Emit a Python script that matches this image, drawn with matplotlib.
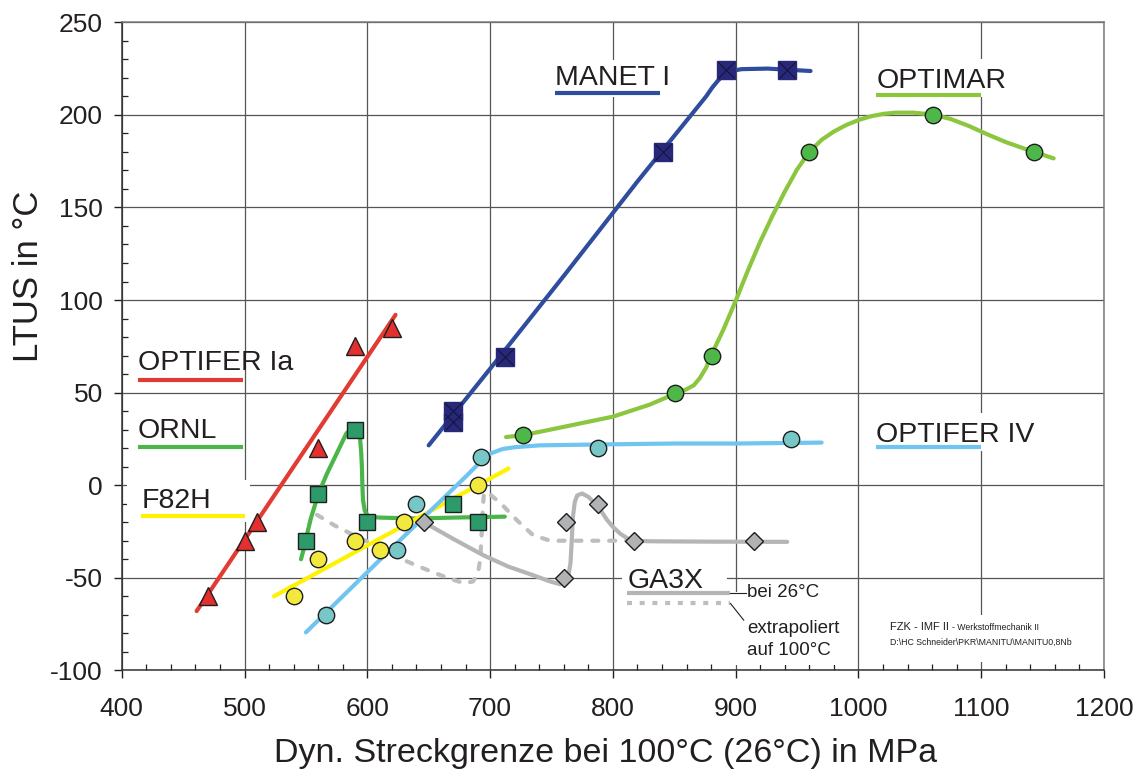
import matplotlib.pyplot as plt
from matplotlib.patches import Rectangle
from matplotlib.ticker import MultipleLocator

plt.rcParams["font.family"] = ["Liberation Sans", "DejaVu Sans"]
plt.rcParams["axes.unicode_minus"] = False

# OPTIFER Ia: measured points and straight trend line
optifer1a_x = [470, 500, 510, 560, 590, 620]
optifer1a_y = [-60, -30, -20, 20, 75, 85]
optifer1a_line_x = [461, 623]
optifer1a_line_y = [-68, 92]

# ORNL
ornl_x = [550, 560, 590, 600, 670, 690]
ornl_y = [-30, -5, 30, -20, -10, -20]
ornl_line_x = [546, 548, 550, 554, 560, 567, 575, 583, 588, 591, 594, 595,
               595.6, 596, 596.5, 598, 601, 610, 640, 670, 712]
ornl_line_y = [-40, -35, -29, -18, -5, 6, 17, 28, 31, 30, 26, 18,
               10, 0, -8, -14, -17, -17.5, -18, -17.5, -17]

# F82H
f82h_x = [540, 560, 590, 610, 630, 690]
f82h_y = [-60, -40, -30, -35, -20, 0]
f82h_line_x = [524, 715]
f82h_line_y = [-60, 9]

# OPTIFER IV
optifer4_x = [566, 624, 640, 693, 788, 945]
optifer4_y = [-70, -35, -10, 15, 20, 25]
optifer4_line_x = [550, 620, 680, 692, 700, 710, 720, 740, 790, 850, 900, 970]
optifer4_line_y = [-79.5, -34, 4.5, 12.5, 17, 19.5, 20.5, 21.5, 22, 22.5, 22.5, 23]

# MANET I
manet_x = [670, 670, 712, 841, 892, 942]
manet_y = [34, 40, 69, 180, 224, 224]
manet_line_x = [650, 705, 760, 820, 876, 881, 886, 891, 897, 905, 926, 961]
manet_line_y = [21.5, 67, 113, 164, 210, 214.8, 218.8, 221.8, 223.8, 224.7, 225, 223.7]

# OPTIMAR
optimar_x = [727, 851, 881, 960, 1061, 1143]
optimar_y = [27, 50, 70, 180, 200, 180]
optimar_line_x = [713, 727, 760, 800, 830, 851, 860, 866, 871, 876, 880, 890,
                  900, 910, 920, 930, 940, 950, 960, 970, 980, 990, 1000, 1010,
                  1020, 1030, 1045, 1060, 1075, 1090, 1105, 1120, 1135, 1143, 1159]
optimar_line_y = [26, 27, 31.5, 37, 43.5, 49.5, 51.8, 54, 58, 63.5, 70, 84,
                  99.5, 116, 131.5, 145.5, 158.5, 170.5, 180, 186.5, 191, 194.5, 197.2, 199.2,
                  200.5, 201.2, 201.2, 200.2, 197.8, 194, 189.5, 185.3, 181.8, 180, 176.5]

# GA3X, tested at 26 °C (solid) and extrapolated to 100 °C (dashed)
ga3x_x = [646, 760, 762, 788, 817, 915]
ga3x_y = [-20, -50, -20, -10, -30, -30]
ga3x_line_x = [646, 670, 695, 715, 735, 748, 757, 761, 764, 765.5, 766.5, 767.5,
               769, 771, 775, 780, 785, 790, 795, 800, 806, 812, 817, 830, 880, 942]
ga3x_line_y = [-20, -29, -38, -44, -48.6, -51.8, -53.5, -52, -48, -42, -30, -17,
               -9, -5.5, -4.5, -6.3, -9.5, -13.5, -18.5, -22.5, -26.2, -28.8, -30, -30.3,
               -30.5, -30.6]
ga3x_extra_x = [559, 574, 589, 605, 621, 646, 665, 679, 686, 690, 692, 693, 694,
                695, 700, 709, 722, 735, 749, 780, 817]
ga3x_extra_y = [-16, -22, -27, -32, -38, -45, -50, -53, -52, -48, -40, -28, -14,
                -4, -5, -10, -19, -27, -30, -30, -30]

xticks = [400, 500, 600, 700, 800, 900, 1000, 1100, 1200]
yticks = [-100, -50, 0, 50, 100, 150, 200, 250]

TXT = "#231f20"
RED = "#e23b34"
ORNL_LINE = "#4ab548"
YELLOW = "#fff200"
SKY = "#6fc5ef"
NAVY_LINE = "#2f4d9c"
OPTIMAR_LINE = "#8cc63f"
GREY = "#b4b5b7"

fig = plt.figure(figsize=(11.42, 7.69), dpi=100)
ax = fig.add_axes([0.1066, 0.1283, 0.8601, 0.8427])
ax.set_xlim(400, 1200)
ax.set_ylim(-100, 250)
ax.set_xticks(xticks)
ax.set_yticks(yticks)
ax.xaxis.set_minor_locator(MultipleLocator(20))
ax.yaxis.set_minor_locator(MultipleLocator(10))
ax.set_axisbelow(True)
ax.grid(which="major", color="#555555", lw=0.9)
ax.tick_params(which="major", direction="out", length=5.5, width=1, labelsize=19,
               colors=TXT)
ax.tick_params(axis="x", which="major", pad=14)
ax.tick_params(axis="y", which="major", pad=8)
ax.tick_params(which="minor", direction="in", length=4.5, width=0.9, color=TXT)
for side in ["left", "bottom"]:
    ax.spines[side].set_color("#333333")
    ax.spines[side].set_linewidth(1.1)
for side in ["top", "right"]:
    ax.spines[side].set_color("#7a7a7a")
    ax.spines[side].set_linewidth(1.1)

ax.set_xlabel("Dyn. Streckgrenze bei 100°C (26°C) in MPa", fontsize=24.5, color=TXT,
              va="baseline")
ax.xaxis.set_label_coords(0.493, -0.1415)
ax.set_ylabel("LTUS in °C", fontsize=25, color=TXT, va="baseline")
ax.yaxis.set_label_coords(-0.0855, 0.608)

# white areas that hide the grid behind the labels
for x0, x1, y0, y1 in [(404, 504.5, -20, 2.7), (1009, 1150, 18.5, 39),
                       (1009, 1128, 209.5, 230), (749, 855, 209.6, 229.6),
                       (807.4, 893, -62.2, -43.2), (898, 993.5, -97, -57.7),
                       (1018, 1177, -95.5, -70.2)]:
    ax.add_patch(Rectangle((x0, y0), x1 - x0, y1 - y0, facecolor="white",
                           edgecolor="none", zorder=1))

lw = 3
ax.plot(ga3x_extra_x, ga3x_extra_y, color="#bdbec0", lw=lw, ls=(0, (1.45, 2.6)),
        dash_capstyle="round", zorder=2)
ax.plot(ga3x_line_x, ga3x_line_y, color=GREY, lw=lw, solid_capstyle="round", zorder=2)
ax.plot(optifer1a_line_x, optifer1a_line_y, color=RED, lw=lw, solid_capstyle="round", zorder=2)
ax.plot(ornl_line_x, ornl_line_y, color=ORNL_LINE, lw=lw, solid_capstyle="round", zorder=2)
ax.plot(f82h_line_x, f82h_line_y, color=YELLOW, lw=lw, solid_capstyle="round", zorder=2)
ax.plot(optifer4_line_x, optifer4_line_y, color=SKY, lw=lw, solid_capstyle="round", zorder=2)
ax.plot(manet_line_x, manet_line_y, color=NAVY_LINE, lw=lw, solid_capstyle="round", zorder=2)
ax.plot(optimar_line_x, optimar_line_y, color=OPTIMAR_LINE, lw=lw, solid_capstyle="round",
        zorder=2)

mk = dict(ls="none", mec="#1e1e1e", mew=1, zorder=4)
ax.plot(optifer1a_x, optifer1a_y, marker="^", ms=12.5, mfc="#e3302f", **mk)
ax.plot(ornl_x, ornl_y, marker="s", ms=11.5, mfc="#2d9a6a", **mk)
ax.plot(f82h_x, f82h_y, marker="o", ms=11.8, mfc="#f3e83e", **mk)
ax.plot(optifer4_x, optifer4_y, marker="o", ms=11.8, mfc="#78c7c7", **mk)
ax.plot(optimar_x, optimar_y, marker="o", ms=11.8, mfc="#4db848", **mk)
ax.plot(ga3x_x, ga3x_y, marker="D", ms=9, mfc="#b1b2b4", **mk)
ax.plot(manet_x, manet_y, ls="none", marker="s", ms=13, mfc="#27287a", mec="#27287a",
        zorder=4)
ax.plot(manet_x, manet_y, ls="none", marker="x", ms=12, mew=0.8, color="#15153a", zorder=5)

# series names with a coloured underline
labels = [
    ("OPTIFER Ia", 413.5, 62.2, 413.3, 498.9, 56.8, RED),
    ("ORNL", 413.3, 25.3, 413.3, 498.9, 20.6, ORNL_LINE),
    ("F82H", 416.3, -12.4, 415.7, 500.5, -16.6, YELLOW),
    ("MANET I", 753.2, 216.1, 753.2, 838.2, 212, NAVY_LINE),
    ("OPTIMAR", 1014.7, 214.3, 1014.7, 1099.5, 210.7, OPTIMAR_LINE),
    ("OPTIFER IV", 1014.7, 23.4, 1014.7, 1099.5, 20.4, SKY),
]
for name, tx, ty, x0, x1, uy, col in labels:
    ax.text(tx, ty, name, fontsize=20.5, color=TXT, va="baseline", zorder=6)
    ax.plot([x0, x1], [uy, uy], color=col, lw=lw, solid_capstyle="butt", zorder=6)

# GA3X key
ax.text(812.4, -55.8, "GA3X", fontsize=20.5, color=TXT, va="baseline", zorder=6)
ax.plot([811.6, 895.8], [-58.2, -58.2], color=GREY, lw=lw, solid_capstyle="butt", zorder=6)
ax.plot([811.6, 895.8], [-63.9, -63.9], color="#bdbec0", lw=lw, ls=(0, (1.2, 1.85)),
        dash_capstyle="butt", zorder=6)
ax.plot([895.8, 908.5], [-58.2, -58.2], color=TXT, lw=0.8, zorder=6)
ax.plot([895.8, 906.6], [-63.9, -72.9], color=TXT, lw=0.8, zorder=6)
ax.text(909.4, -60.6, "bei 26°C", fontsize=13.5, color=TXT, va="baseline", zorder=6)
ax.text(909.4, -80.1, "extrapoliert", fontsize=13.5, color=TXT, va="baseline", zorder=6)
ax.text(909.4, -91.8, "auf 100°C", fontsize=13.5, color=TXT, va="baseline", zorder=6)

ax.text(1026.1, -78.3, "FZK - IMF II", fontsize=8, color=TXT, va="baseline", zorder=6)
ax.text(1076.4, -78.3, "- Werkstoffmechanik II", fontsize=6.3, color=TXT, va="baseline",
        zorder=6)
ax.text(1026.1, -86.4, "D:\\HC Schneider\\PKR\\MANITU\\MANITU0,8Nb", fontsize=6.3,
        color=TXT, va="baseline", zorder=6)

fig.savefig("out.png", dpi=100)
